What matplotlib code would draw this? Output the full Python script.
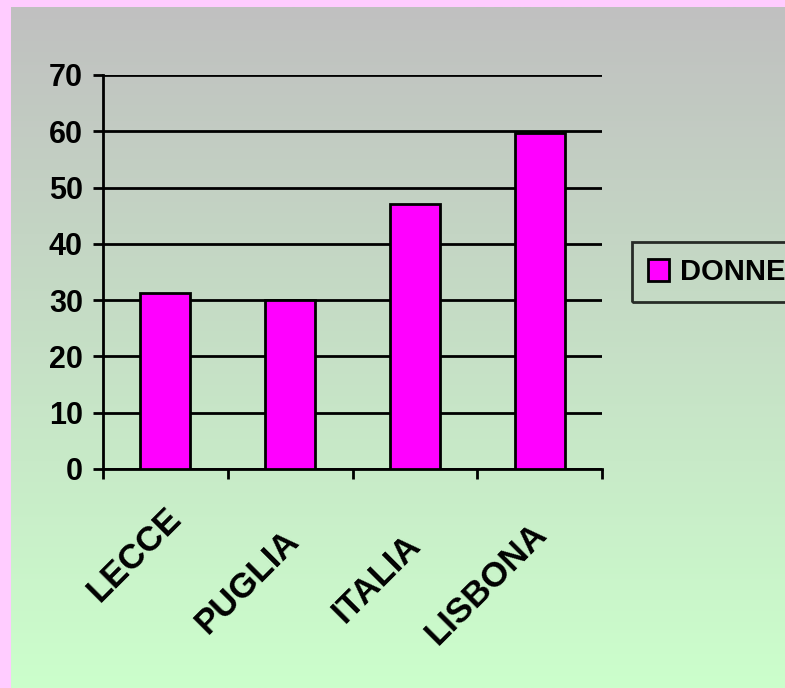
import numpy as np
import matplotlib.pyplot as plt
from matplotlib.colors import LinearSegmentedColormap
from matplotlib.transforms import offset_copy

# Dati
citta = ["LECCE", "PUGLIA", "ITALIA", "LISBONA"]
donne = [31.3, 30.0, 47.1, 59.7]
y_ticks = [0, 10, 20, 30, 40, 50, 60, 70]

# spostamento (in pixel) delle etichette ruotate rispetto al centro categoria
label_dx = [11, 4, 1, 2]
label_dy = [-44, -66, -71, -59]

plt.rcParams['font.family'] = ['Liberation Sans', 'DejaVu Sans']
plt.rcParams['font.weight'] = 'bold'

fig = plt.figure(figsize=(7.85, 6.88), dpi=100)
fig.patch.set_facecolor('#FFCCFF')

# sfondo sfumato grigio -> verde chiaro
bg = fig.add_axes([11 / 785, 0, 1 - 11 / 785, 1 - 7 / 688])
cmap = LinearSegmentedColormap.from_list('sfondo', ['#C0C0C0', '#CCFFCC'])
grad = np.linspace(0, 1, 256).reshape(-1, 1)
bg.imshow(grad, aspect='auto', cmap=cmap, extent=[0, 1, 0, 1], origin='upper')
bg.set_axis_off()

ax = fig.add_axes([103 / 785, 1 - 469 / 688, (602 - 103) / 785, (469 - 75) / 688])
ax.patch.set_alpha(0)

x = np.arange(len(citta))
ax.bar(x, donne, width=0.4, color='#FF00FF', edgecolor='black', linewidth=2,
       label='DONNE', zorder=3)

ax.set_xlim(-0.5, len(citta) - 0.5)
ax.set_ylim(0, 70)
ax.set_yticks(y_ticks)
ax.yaxis.grid(True, color='black', linewidth=2, zorder=1)
ax.set_axisbelow(True)

for s in ['top', 'right']:
    ax.spines[s].set_visible(False)
for s in ['left', 'bottom']:
    ax.spines[s].set_linewidth(2)

ax.tick_params(axis='y', length=7.5, width=2, labelsize=22, pad=7)
ax.set_xticks(np.arange(len(citta) + 1) - 0.5)
ax.set_xticklabels([])
ax.tick_params(axis='x', length=7.5, width=2)

# etichette delle categorie ruotate a 45 gradi
base = ax.get_xaxis_transform()
for xi, nome, dx, dy in zip(x, citta, label_dx, label_dy):
    tr = offset_copy(base, fig=fig, x=dx, y=dy, units='dots')
    ax.text(xi, 0, nome, transform=tr, rotation=45, rotation_mode='anchor',
            ha='right', va='center', fontsize=25, fontweight='bold')

leg = fig.legend(loc='center left', bbox_to_anchor=(632 / 785, 1 - 272 / 688),
                 borderaxespad=0, frameon=True, fancybox=False, fontsize=21,
                 handlelength=0.72, handleheight=0.79, handletextpad=0.38,
                 borderpad=0.55)
leg.get_frame().set_edgecolor('black')
leg.get_frame().set_linewidth(2)
leg.get_frame().set_facecolor('none')

fig.savefig('out.png', dpi=100)
